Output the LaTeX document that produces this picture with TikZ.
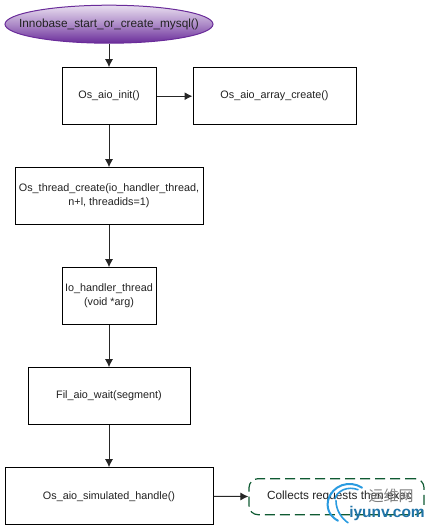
\documentclass[tikz,border=0pt]{standalone}
\usepackage{fontspec}
\setmainfont{Liberation Sans}
\newfontfamily\cjkwm{Noto Sans CJK SC}
\usetikzlibrary{arrows.meta,shapes.geometric,positioning}
\definecolor{txt}{HTML}{222222}
\definecolor{dgreen}{HTML}{0F5A32}
\definecolor{purpA}{HTML}{E9DFF0}
\definecolor{purpB}{HTML}{6A2C9A}
\definecolor{wmblue}{HTML}{2A9BE0}
\tikzset{
  x=1pt,y=-1pt,
  base/.style={font=\fontsize{10.8pt}{14pt}\selectfont,text=txt,align=center,inner sep=0pt},
  bigtext/.style={font=\fontsize{11.8pt}{14pt}\selectfont},
  procbox/.style={base,draw=black,line width=1pt,fill=white},
  conn/.style={draw=black!85,line width=1pt,-{Latex[length=8pt,width=8pt]}},
}
\begin{document}
\begin{tikzpicture}
\useasboundingbox (0,-0.7) rectangle (430,528.3);
\node[base,bigtext,ellipse,draw=purpB,line width=1pt,top color=purpA,bottom color=purpB,middle color=purpB!55,minimum width=208pt,minimum height=38pt] (start) at (109,23.5) {\makebox[0pt]{Innobase\_start\_or\_create\_mysql()}};
\node[procbox,minimum width=94pt,minimum height=57pt] (init) at (109,95.5) {Os\_aio\_init()};
\node[procbox,minimum width=163pt,minimum height=57pt] (arr) at (274.5,95.5) {Os\_aio\_array\_create()};
\node[procbox,minimum width=188pt,minimum height=57pt] (thr) at (109,195.5) {Os\_thread\_create(io\_handler\_thread,\\n+l, threadids=1)};
\node[procbox,minimum width=94pt,minimum height=57pt] (io) at (109,295.5) {Io\_handler\_thread\\(void *arg)};
\node[procbox,minimum width=162pt,minimum height=57pt] (fil) at (109,395.5) {Fil\_aio\_wait(segment)};
\node[procbox,minimum width=208pt,minimum height=57pt] (sim) at (109,495.5) {Os\_aio\_simulated\_handle()};
\node[base,bigtext,draw=dgreen,line width=1.2pt,dash pattern=on 10pt off 5pt,rounded corners=9pt,minimum width=175pt,minimum height=36pt] (col) at (336.5,496) {\hspace*{6pt}Collects requests then exec};
\draw[conn] (start) -- (init);
\draw[conn] (init) -- (arr);
\draw[conn] (init) -- (thr);
\draw[conn] (thr) -- (io);
\draw[conn] (io) -- (fil);
\draw[conn] (fil) -- (sim);
\draw[conn] (sim) -- (col);
% watermark
\draw[wmblue,line width=2pt,line cap=round] (362,487) .. controls (350,479) and (332,484) .. (328,500) .. controls (326,510) and (332,517) .. (338,520);
\draw[wmblue,line width=1.6pt,line cap=round] (358,489) .. controls (348,485) and (337,490) .. (335,498);
\draw[wmblue,line width=1.6pt,line cap=round] (336,500) .. controls (336,510) and (342,518) .. (348,522);
\node[inner sep=0pt,text=black!50,font=\cjkwm\fontsize{15pt}{17pt}\selectfont] (wmcn) at (391,495) {运维网};
\node[inner sep=0pt,text=wmblue!75!black,font=\bfseries\fontsize{15.5pt}{17pt}\selectfont] (wmen) at (387,513) {iyunv.com};
\end{tikzpicture}
\end{document}
